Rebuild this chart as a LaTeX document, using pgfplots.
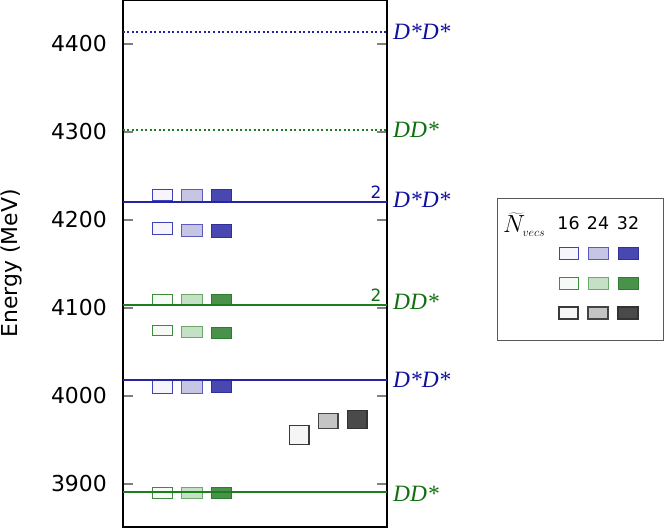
\documentclass[border=0pt]{standalone}
\usepackage{pgfplots}
\pgfplotsset{compat=1.18}
\usepackage{fontspec}
\setmainfont{DejaVu Sans}
\newfontfamily\labfont{Liberation Serif}
\definecolor{lineB}{RGB}{36,36,165}
\definecolor{lineG}{RGB}{30,125,30}
\definecolor{txtB}{RGB}{16,16,160}
\definecolor{txtG}{RGB}{16,112,16}
\definecolor{fB16}{HTML}{F5F5FB}\definecolor{dB16}{HTML}{4040B8}
\definecolor{fB24}{HTML}{C6C6E4}\definecolor{dB24}{HTML}{5A5ABF}
\definecolor{fB32}{HTML}{4848B0}\definecolor{dB32}{HTML}{30309A}
\definecolor{fG16}{HTML}{F6FAF6}\definecolor{dG16}{HTML}{3C8C3C}
\definecolor{fG24}{HTML}{C6E0C6}\definecolor{dG24}{HTML}{6AAA6A}
\definecolor{fG32}{HTML}{4A924A}\definecolor{dG32}{HTML}{2E7D2E}
\definecolor{fK16}{HTML}{F5F5F5}\definecolor{dK16}{HTML}{3A3A3A}
\definecolor{fK24}{HTML}{C4C4C4}\definecolor{dK24}{HTML}{444444}
\definecolor{fK32}{HTML}{4A4A4A}\definecolor{dK32}{HTML}{333333}
\pgfplotsset{
  b16/.style={fill=fB16,draw=dB16,line width=1bp},
  b24/.style={fill=fB24,draw=dB24,line width=1bp},
  b32/.style={fill=fB32,draw=dB32,line width=1bp},
  g16/.style={fill=fG16,draw=dG16,line width=1bp},
  g24/.style={fill=fG24,draw=dG24,line width=1bp},
  g32/.style={fill=fG32,draw=dG32,line width=1bp},
  k16/.style={fill=fK16,draw=dK16,line width=1.1bp},
  k24/.style={fill=fK24,draw=dK24,line width=1.1bp},
  k32/.style={fill=fK32,draw=dK32,line width=1.1bp},
}
% box: style, xleft, xright, ylow, yhigh
\newcommand{\bx}[5]{\addplot[#1] coordinates {(#2,#4) (#3,#4) (#3,#5) (#2,#5)} -- cycle;}
\newcommand{\labB}[1]{\node[anchor=west,xshift=6bp,inner sep=0pt,text=txtB,font=\labfont\itshape\fontsize{23.5}{24}\selectfont] at (axis cs:264,#1) {D*D*};}
\newcommand{\labG}[1]{\node[anchor=west,xshift=6bp,inner sep=0pt,text=txtG,font=\labfont\itshape\fontsize{23.5}{24}\selectfont] at (axis cs:264,#1) {DD*};}
\begin{document}
\begin{tikzpicture}[x=1bp,y=1bp]
\useasboundingbox (-123,-1) rectangle (541,527);
\begin{axis}[
  at={(0,0)}, anchor=south west,
  scale only axis, width=264bp, height=527bp,
  xmin=0, xmax=264, ymin=3851, ymax=4450,
  clip=false,
  xtick=\empty,
  ytick={3900,4000,4100,4200,4300,4400},
  ytick pos=both, yticklabel pos=left,
  tick align=inside, major tick length=10bp,
  tick style={black!50, line width=1.3bp},
  axis line style={black, line width=1.2bp},
  scaled ticks=false,
  /pgf/number format/.cd, assume math mode=true, 1000 sep={},
  /pgfplots/.cd,
  yticklabel style={font=\fontsize{22}{24}\selectfont, inner sep=0pt, anchor=east, xshift=-16bp},
  ylabel={Energy (MeV)},
  every axis y label/.style={at={(axis description cs:-0.424,0.5)}, rotate=90, anchor=center, font=\fontsize{22}{24}\selectfont},
]
% boxes
\bx{b16}{29.5}{49.5}{4221.6}{4235.1}
\bx{b24}{59}{79}{4220.8}{4234.4}
\bx{b32}{88.5}{108}{4220.8}{4234.1}
\bx{b16}{29.5}{49.5}{4183.8}{4197.4}
\bx{b24}{59}{79}{4181.5}{4195.1}
\bx{b32}{88.5}{108}{4180.3}{4194.3}
\bx{g16}{29.5}{49.5}{4104.2}{4115.6}
\bx{g24}{59}{79}{4103.4}{4115.6}
\bx{g32}{88.5}{108}{4103.4}{4115.6}
\bx{g16}{29.5}{49.5}{4068.5}{4080.3}
\bx{g24}{59}{79}{4066.7}{4078.8}
\bx{g32}{88.5}{108}{4065.6}{4077.6}
\bx{b16}{29.5}{49.5}{4002.6}{4017.0}
\bx{b24}{59}{79}{4002.6}{4017.0}
\bx{b32}{88.5}{108}{4003.4}{4017.4}
\bx{g16}{29.5}{49.5}{3883.3}{3895.8}
\bx{g24}{59}{79}{3883.3}{3895.8}
\bx{g32}{88.5}{108}{3883.3}{3895.8}
\bx{k16}{166.5}{186}{3945.1}{3965.9}
\bx{k24}{195.5}{215}{3962.8}{3979.5}
\bx{k32}{224.5}{244}{3963.3}{3982.9}
% thresholds
\addplot[lineB, line width=2bp, dash pattern=on 2bp off 2.5bp] coordinates {(0,4413.6) (264,4413.6)};
\addplot[lineG, line width=2bp, dash pattern=on 2bp off 2.5bp] coordinates {(0,4302.3) (264,4302.3)};
\addplot[lineB, line width=1.5bp] coordinates {(0,4220.6) (264,4220.6)};
\addplot[lineG, line width=1.5bp] coordinates {(0,4103.4) (264,4103.4)};
\addplot[lineB, line width=1.5bp] coordinates {(0,4018.2) (264,4018.2)};
\addplot[lineG, line width=1.5bp] coordinates {(0,3890.6) (264,3890.6)};
\node[anchor=south,inner sep=0pt,text=txtB,font=\fontsize{17}{18}\selectfont] at (axis cs:253,4224.2) {2};
\node[anchor=south,inner sep=0pt,text=txtG,font=\fontsize{17}{18}\selectfont] at (axis cs:253,4106.8) {2};
\labB{4413.6}
\labG{4302.3}
\labB{4222.5}
\labG{4106.6}
\labB{4018.2}
\labG{3888.5}
\end{axis}
\begin{axis}[
  at={(374,187)}, anchor=south west,
  scale only axis, width=166bp, height=142bp,
  xmin=0, xmax=166, ymin=0, ymax=142,
  xtick=\empty, ytick=\empty, clip=false,
  axis line style={black!65, line width=0.9bp},
]
\bx{b16}{62}{81}{80}{92}
\bx{b24}{91}{111}{80}{92}
\bx{b32}{121}{141}{80}{92}
\bx{g16}{62}{81}{50}{62}
\bx{g24}{91}{111}{50}{62}
\bx{g32}{121}{141}{50}{62}
\bx{k16}{62}{81}{21}{33}
\bx{k24}{91}{111}{21}{33}
\bx{k32}{121}{141}{21}{33}
\node[inner sep=0pt,font=\fontsize{17.5}{19}\selectfont] at (axis cs:71.5,117) {16};
\node[inner sep=0pt,font=\fontsize{17.5}{19}\selectfont] at (axis cs:101,117) {24};
\node[inner sep=0pt,font=\fontsize{17.5}{19}\selectfont] at (axis cs:131,117) {32};
\node[anchor=base west, inner sep=0pt, font=\fontsize{24}{26}\selectfont] at (axis cs:6,107) {$\widetilde{N}_{\scriptscriptstyle vecs}$};
\end{axis}
\end{tikzpicture}
\end{document}
